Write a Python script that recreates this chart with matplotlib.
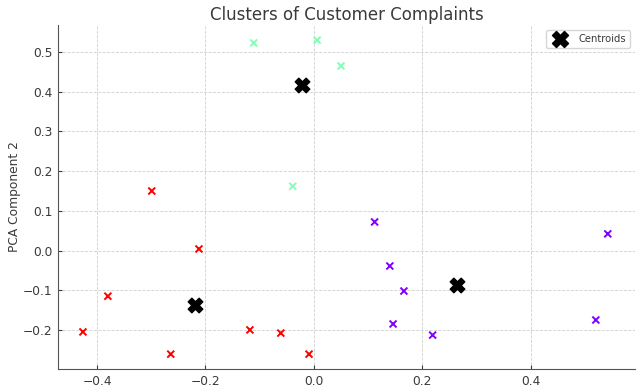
import matplotlib
matplotlib.use("Agg")
import matplotlib.pyplot as plt
import numpy as np

# PCA coordinates of the complaints, by cluster label
pc1 = [0.112, 0.140, 0.166, 0.146, 0.219, 0.542, 0.520,
       -0.111, 0.006, 0.050, -0.039,
       -0.299, -0.212, -0.380, -0.426, -0.264, -0.118, -0.061, -0.009]
pc2 = [0.072, -0.039, -0.102, -0.185, -0.213, 0.042, -0.175,
       0.523, 0.530, 0.465, 0.162,
       0.150, 0.004, -0.115, -0.205, -0.261, -0.200, -0.208, -0.261]
labels = [0, 0, 0, 0, 0, 0, 0,
          1, 1, 1, 1,
          2, 2, 2, 2, 2, 2, 2, 2]

centroid_x = [0.264, -0.022, -0.219]
centroid_y = [-0.087, 0.418, -0.137]

TEXT = "#3a3a3a"
plt.rcParams["text.color"] = TEXT
plt.rcParams["axes.labelcolor"] = TEXT
plt.rcParams["xtick.color"] = TEXT
plt.rcParams["ytick.color"] = TEXT

fig = plt.figure(figsize=(6.4, 3.86), dpi=100)
ax = fig.add_axes([0.0906, 0.044, 0.9014, 0.891])

ax.scatter(pc1, pc2, c=labels, cmap="rainbow", marker="x", s=25, linewidths=1.4)
ax.scatter(centroid_x, centroid_y, c="black", marker="X", s=110, label="Centroids")

ax.set_xlim(-0.472, 0.592)
ax.set_ylim(-0.2985, 0.568)
ax.set_xticks([-0.4, -0.2, 0.0, 0.2, 0.4])
ax.set_yticks([-0.2, -0.1, 0.0, 0.1, 0.2, 0.3, 0.4, 0.5])

ax.set_title("Clusters of Customer Complaints", fontsize=12, pad=4)
ax.set_ylabel("PCA Component 2", fontsize=8.8, labelpad=1.5)

ax.grid(True, linestyle="--", linewidth=0.6, color="#d0d0d0")
ax.set_axisbelow(True)
for side in ["top", "right"]:
    ax.spines[side].set_visible(False)
for side in ["left", "bottom"]:
    ax.spines[side].set_color("#555555")
ax.tick_params(axis="both", direction="in", labelsize=8.8, length=3, pad=4)

ax.legend(loc="upper right", fontsize=7.2, handletextpad=0.8, borderpad=0.4,
          markerscale=1.1)

fig.savefig("out.png", dpi=100)
